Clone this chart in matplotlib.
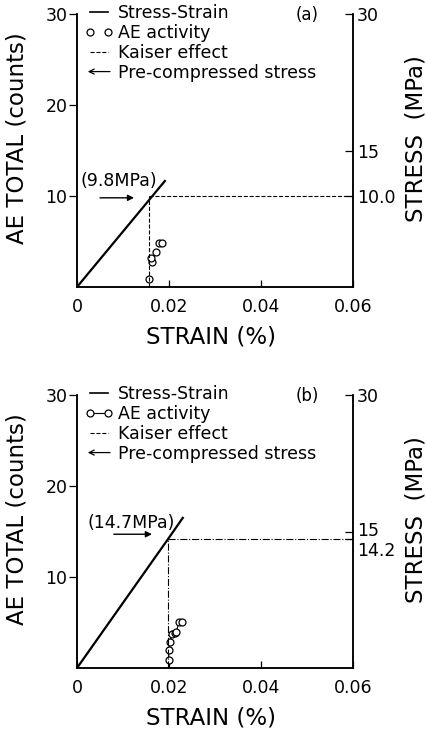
import matplotlib
matplotlib.use("Agg")
import matplotlib.pyplot as plt
from matplotlib.lines import Line2D
from matplotlib.patches import FancyArrowPatch
from matplotlib.legend_handler import HandlerBase
from matplotlib.transforms import ScaledTranslation

# ---- data -----------------------------------------------------------------
# panel (a)
ss_strain_a = [0.0, 0.0191]
ss_stress_a = [0.0, 11.65]
ae_strain_a = [0.0157, 0.0162, 0.0161, 0.0171, 0.0178, 0.0185]
ae_count_a = [0.85, 2.8, 3.2, 3.8, 4.8, 4.85]
kaiser_strain_a = 0.0157
kaiser_stress_a = 10.0
pre_stress_a = 9.8
pre_label_a = "(9.8MPa)"
right_ticks_a = [10.0, 15, 30]
right_labels_a = ["10.0", "15", "30"]

# panel (b)
ss_strain_b = [0.0, 0.0199, 0.0230]
ss_stress_b = [0.0, 14.25, 16.5]
ae_strain_b = [0.0199, 0.0200, 0.0202, 0.0206, 0.0212, 0.0216, 0.0222, 0.0229]
ae_count_b = [0.9, 2.0, 2.9, 3.7, 3.8, 4.0, 5.1, 5.1]
kaiser_strain_b = 0.01985
kaiser_stress_b = 14.2
pre_stress_b = 14.7
pre_label_b = "(14.7MPa)"
right_ticks_b = [14.2, 15, 30]
right_labels_b = ["14.2", "15", "30"]

x_ticks = [0, 0.02, 0.04, 0.06]
x_labels = ["0", "0.02", "0.04", "0.06"]
left_ticks = [10, 20, 30]


class ArrowKey:
    pass


class ArrowHandler(HandlerBase):
    def create_artists(self, legend, orig_handle, xdescent, ydescent,
                       width, height, fontsize, trans):
        y = height / 2 - ydescent
        a = FancyArrowPatch((width - xdescent, y), (-xdescent, y),
                            arrowstyle='->', mutation_scale=9, lw=0.9,
                            color='black', transform=trans)
        return [a]


plt.rcParams['font.family'] = 'DejaVu Sans'
fig = plt.figure(figsize=(4.26, 7.3), dpi=100)

panels = [
    dict(bottom=1 - 287 / 730, ss=(ss_strain_a, ss_stress_a),
         ae=(ae_strain_a, ae_count_a), ae_ls='none', kls='--',
         kaiser=(kaiser_strain_a, kaiser_stress_a), pre=pre_stress_a,
         pre_label=pre_label_a, arrow=(0.0050, 0.0124), txt=(0.0091, 11.6),
         rticks=right_ticks_a, rlabels=right_labels_a, tag="(a)",
         shift=[0.0, 0.0, 0.0]),
    dict(bottom=1 - 668 / 730, ss=(ss_strain_b, ss_stress_b),
         ae=(ae_strain_b, ae_count_b), ae_ls='-', kls='-.',
         kaiser=(kaiser_strain_b, kaiser_stress_b), pre=pre_stress_b,
         pre_label=pre_label_b, arrow=(0.0080, 0.0163), txt=(0.0117, 15.9),
         rticks=right_ticks_b, rlabels=right_labels_b, tag="(b)",
         shift=[-0.10, 0.02, 0.0]),
]

for p in panels:
    ax = fig.add_axes([77 / 426, p['bottom'], 276 / 426, 273 / 730])
    ax2 = ax.twinx()

    # AE activity on the left axis
    ax.plot(p['ae'][0], p['ae'][1], ls=p['ae_ls'], lw=0.8, color='black',
            marker='o', ms=5, mfc='white', mec='black', mew=0.9, zorder=3)

    # stress-strain and Kaiser lines on the stress axis
    ax2.plot(p['ss'][0], p['ss'][1], color='black', lw=1.6)
    ks, kst = p['kaiser']
    ax2.vlines(ks, 0, kst, colors='black', linestyles=p['kls'], lw=0.8)
    ax2.hlines(kst, ks, 0.06, colors='black', linestyles=p['kls'], lw=0.8)

    ax2.annotate('', xy=(p['arrow'][1], p['pre']), xytext=(p['arrow'][0], p['pre']),
                 arrowprops=dict(arrowstyle='-|>', color='black', lw=1.0,
                                 mutation_scale=9, shrinkA=0, shrinkB=0))
    ax2.text(p['txt'][0], p['txt'][1], p['pre_label'], ha='center',
             va='center', fontsize=12.5)
    ax2.text(0.0500, 29.9, p['tag'], ha='center', va='center', fontsize=12)

    for a in (ax, ax2):
        a.set_xlim(0, 0.06)
        a.set_ylim(0, 30)
        a.spines['top'].set_visible(False)
        for s in a.spines.values():
            s.set_linewidth(1.1)

    ax.set_xticks(x_ticks)
    ax.set_xticklabels(x_labels, fontsize=12.5)
    ax.set_yticks(left_ticks)
    ax.set_yticklabels([str(t) for t in left_ticks], fontsize=12.5)
    ax.tick_params(axis='x', direction='in', length=5, width=0.9, pad=8)
    ax.tick_params(axis='y', direction='out', length=6, width=0.9, pad=1)

    ax2.set_yticks(p['rticks'])
    ax2.set_yticklabels(p['rlabels'], fontsize=12.5)
    ax2.tick_params(axis='y', direction='in', length=6, width=0.9, pad=3)
    # nudge crowded right-hand labels apart (vertical offset in inches)
    for lab, dy in zip(ax2.get_yticklabels(), p['shift']):
        lab.set_transform(lab.get_transform() +
                          ScaledTranslation(0, dy, fig.dpi_scale_trans))

    ax.set_xlabel("STRAIN (%)", fontsize=16.5)
    ax.xaxis.set_label_coords(0.486, -0.14)
    ax.set_ylabel("AE TOTAL (counts)", fontsize=16.5)
    ax.yaxis.set_label_coords(-0.175, 0.545)
    ax2.set_ylabel("STRESS  (MPa)", fontsize=16.5)
    ax2.yaxis.set_label_coords(1.185, 0.545)

    handles = [
        Line2D([0], [0], color='black', lw=1.2),
        Line2D([0], [0], ls=p['ae_ls'], lw=0.8, color='black', marker='o',
               ms=5, mfc='white', mec='black', mew=0.9),
        Line2D([0], [0], color='black', ls='--', lw=0.8),
        ArrowKey(),
    ]
    labels = ["Stress-Strain", "AE activity", "Kaiser effect",
              "Pre-compressed stress"]
    ax2.legend(handles, labels, loc='upper left',
               bbox_to_anchor=(0.029, 1.035), frameon=False, fontsize=12.5,
               handlelength=1.6, handletextpad=0.3, labelspacing=0.1,
               borderpad=0, borderaxespad=0, numpoints=2,
               handler_map={ArrowKey: ArrowHandler()})

fig.savefig("out.png", dpi=100)
